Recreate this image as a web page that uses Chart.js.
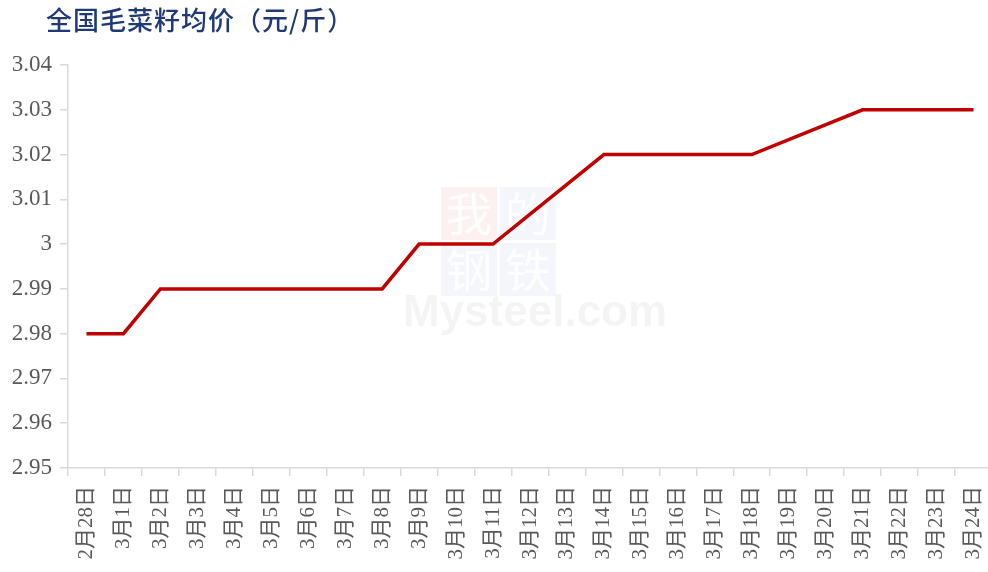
<!DOCTYPE html>
<html>
<head>
<meta charset="utf-8">
<script src="https://cdn.jsdelivr.net/npm/chart.js@4.4.1/dist/chart.umd.min.js"></script>
<style>
  html, body { margin: 0; padding: 0; background: #ffffff; overflow: hidden; }
  #wrap { position: relative; width: 992px; height: 572px; }
</style>
</head>
<body>
<div id="wrap"><canvas id="chart"></canvas></div>
<script>
// Chart data
const titleText = '全国毛菜籽均价（元/斤）';
const dates = ['2月28日', '3月1日', '3月2日', '3月3日', '3月4日', '3月5日', '3月6日', '3月7日', '3月8日',
  '3月9日', '3月10日', '3月11日', '3月12日', '3月13日', '3月14日', '3月15日', '3月16日', '3月17日',
  '3月18日', '3月19日', '3月20日', '3月21日', '3月22日', '3月23日', '3月24日'];
// null = no quote that day, the line is just carried across
const prices = [2.98, 2.98, 2.99, 2.99, 2.99, 2.99, 2.99, 2.99, 2.99,
  3.00, 3.00, 3.00, null, null, 3.02, 3.02, 3.02, 3.02,
  3.02, null, null, 3.03, 3.03, 3.03, 3.03];
const yMin = 2.95;
const yMax = 3.04;
const yStep = 0.01;

const serif = '"Liberation Serif", "Noto Sans CJK SC", serif';

// Title drawn at a fixed left offset, like the original
const titlePlugin = {
    id: 'leftTitle',
    afterDraw(chart) {
        const ctx = chart.ctx;
        ctx.save();
        ctx.fillStyle = '#1f3a74';
        ctx.font = '500 26px "Noto Sans CJK SC", sans-serif';
        ctx.letterSpacing = '1px';
        ctx.textBaseline = 'middle';
        ctx.fillText(titleText, 46, 20);
        ctx.restore();
    }
};

// Faint Mysteel watermark behind the line
const watermarkPlugin = {
    id: 'watermark',
    beforeDatasetsDraw(chart) {
        const ctx = chart.ctx;
        ctx.save();
        const boxes = [
            { t: '我', x: 441, y: 187, c: 'rgba(230,120,110,0.10)' },
            { t: '的', x: 500, y: 187, c: 'rgba(120,140,200,0.08)' },
            { t: '钢', x: 441, y: 243, c: 'rgba(120,140,200,0.08)' },
            { t: '铁', x: 500, y: 243, c: 'rgba(120,140,200,0.08)' }
        ];
        ctx.textAlign = 'center';
        ctx.textBaseline = 'middle';
        ctx.font = '46px "Noto Sans CJK SC", sans-serif';
        boxes.forEach(b => {
            ctx.fillStyle = b.c;
            ctx.fillRect(b.x, b.y, 56, 53);
            ctx.fillStyle = 'rgba(255,255,255,0.9)';
            ctx.fillText(b.t, b.x + 28, b.y + 27);
        });
        ctx.fillStyle = 'rgba(0,0,0,0.045)';
        ctx.font = 'bold 44px "Liberation Sans", sans-serif';
        ctx.textAlign = 'left';
        ctx.textBaseline = 'alphabetic';
        ctx.fillText('Mysteel.com', 403, 326);
        ctx.restore();
    }
};

new Chart(document.getElementById('chart'), {
    type: 'line',
    data: {
        labels: dates,
        datasets: [{
            label: titleText,
            data: prices,
            borderColor: '#c00000',
            borderWidth: 3.5,
            pointRadius: 0,
            tension: 0,
            spanGaps: true,
            fill: false
        }]
    },
    options: {
        responsive: true,
        maintainAspectRatio: false,
        animation: false,
        layout: { padding: { top: 65, right: 0, left: 0, bottom: 0 } },
        plugins: {
            legend: { display: false },
            tooltip: { enabled: false },
            title: { display: false }
        },
        scales: {
            x: {
                offset: true,
                afterFit: (scale) => {
                    scale.height = 104;
                    scale.paddingLeft = 0;
                    scale.paddingRight = 0;
                },
                grid: {
                    display: true,
                    offset: true,
                    drawOnChartArea: false,
                    drawTicks: true,
                    tickLength: 8,
                    color: '#d9d9d9',
                    lineWidth: 1.5
                },
                border: { color: '#d9d9d9', width: 1.5 },
                ticks: {
                    autoSkip: false,
                    maxRotation: 90,
                    minRotation: 90,
                    padding: 10,
                    color: '#595959',
                    font: { family: serif, size: 21 }
                }
            },
            y: {
                min: yMin,
                max: yMax,
                afterFit: (scale) => { scale.width = 68; },
                afterBuildTicks: (scale) => {
                    const ticks = [];
                    for (let i = 0; i <= Math.round((yMax - yMin) / yStep); i++) {
                        ticks.push({ value: +(yMin + i * yStep).toFixed(2) });
                    }
                    scale.ticks = ticks;
                },
                grid: {
                    display: true,
                    drawOnChartArea: false,
                    drawTicks: true,
                    tickLength: 8,
                    color: '#d9d9d9',
                    lineWidth: 1.5
                },
                border: { color: '#d9d9d9', width: 1.5 },
                ticks: {
                    padding: 8,
                    color: '#595959',
                    font: { family: serif, size: 23 },
                    callback: (v) => String(+v.toFixed(2))
                }
            }
        }
    },
    plugins: [watermarkPlugin, titlePlugin]
});
</script>
</body>
</html>
